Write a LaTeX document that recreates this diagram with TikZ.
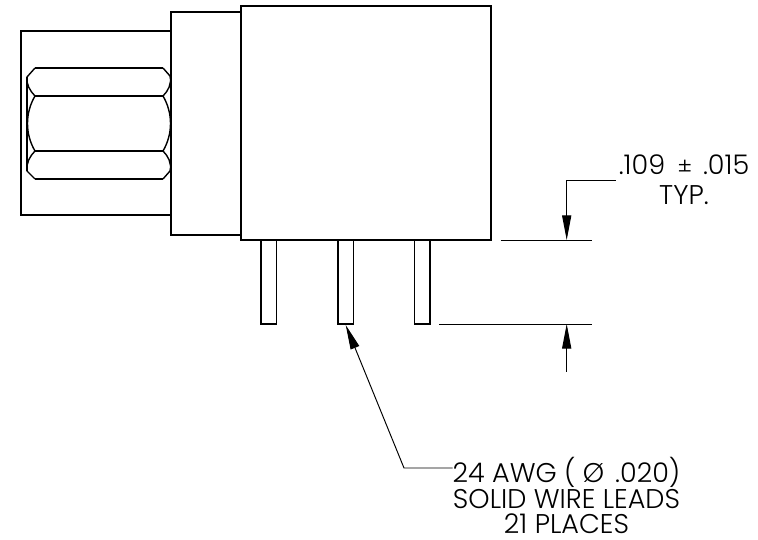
\documentclass[tikz,border=0pt]{standalone}
\usepackage{fontspec}
\setmainfont{Poppins Light}
\usetikzlibrary{arrows.meta}
\tikzset{
 part/.style={black, line width=.8pt},
 dimline/.style={black, line width=.55pt},
 dimtip/.style={-{Triangle[length=14pt, width=5.2pt]}},
 dimtext/.style={inner sep=0, align=center, font=\fontsize{15.4}{14.6}\selectfont},
}
\begin{document}
\begin{tikzpicture} [x=.02cm, y=-.02cm]
\useasboundingbox (0,0) rectangle (758,540);
\draw[part] (171,31) -- (21,31) -- (21,215) -- (171,215);
\draw[part] (241,12) -- (171,12) -- (171,235) -- (241,235);
\draw[part] (241,6) rectangle (491,240);
\foreach \x in {261,338,414.5} {
 \draw[part] (\x,240) --++(0,84) --++(15.5,0) --++(0,-84);
}
\draw[part] (35,68) -- (163,68) (35,96) -- (163,96) (35,151) -- (163,151) (35,179) -- (163,179);
\draw[part] (27,77) -- (27,171);
\draw[part] (35,68) -- (27,77) .. controls (26,84) and (30,91) .. (35,96) .. controls (25,113) and (25,134) .. (35,151) .. controls (30,156) and (26,163) .. (27,171) -- (35,179);
\draw[part] (163,68) -- (170,76) .. controls (172,84) and (168,91) .. (163,96) .. controls (173,113) and (173,134) .. (163,151) .. controls (168,156) and (172,163) .. (170,171) -- (163,179);
\node[dimtext, anchor=base] (tolerance) at (684,175) {.109\hspace{7pt}{\fontsize{13}{13}\selectfont ±}\hspace{6pt}.015};
\node[dimtext, anchor=base] (typ) at (684,205) {TYP.};
\node[dimtext, anchor=north] (wirelabel) at (566.5,457) {24 AWG ( Ø \hspace{2pt}.020)\\SOLID WIRE LEADS\\21 PLACES};
\coordinate (tophead) at (566.7,240);
\coordinate (bottomhead) at (566.7,324);
\coordinate (bottomtail) at (566.7,372);
\coordinate (topelbow) at (566.7,180);
\coordinate (wireelbow) at (404,468);
\coordinate (wiretip) at (345.7,325);
\coordinate (wireend) at (452.5,468);
\draw[dimline] (500.7,240) -- (591.7,240);
\draw[dimline] (439,324) -- (591.7,324);
\draw[dimline, dimtip] (615.5,180) -- (topelbow) -- (tophead);
\draw[dimline, dimtip] (bottomtail) -- (bottomhead);
\draw[dimline, dimtip] (wireend) -- (wireelbow) -- (wiretip);
\end{tikzpicture}
\end{document}
